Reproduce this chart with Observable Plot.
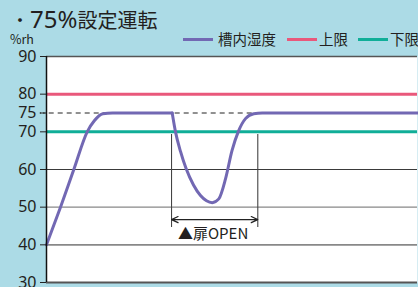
<!DOCTYPE html>
<html><head><meta charset="utf-8">
<script src="https://cdn.jsdelivr.net/npm/d3@7"></script>
<script src="https://cdn.jsdelivr.net/npm/@observablehq/plot@0.6"></script>
<style>
html,body{margin:0;padding:0;background:#acdbe6;}
#wrap{position:relative;width:418px;height:287px;overflow:hidden;font-family:"Noto Sans CJK JP","Noto Sans",sans-serif;color:#231f20;}
#title{position:absolute;left:11px;top:4px;line-height:30px;white-space:nowrap;}
#title .dot{font-size:18px;display:inline-block;width:19px;overflow:hidden;vertical-align:top;}
#title .num{font-family:"Noto Sans",sans-serif;font-size:24px;}
#title .jp{font-size:20px;}
#unit{position:absolute;left:10px;top:31px;font-size:12.5px;line-height:16px;}
#legend{position:absolute;left:183px;top:30px;font-size:14.5px;line-height:18px;white-space:nowrap;display:flex;align-items:center;}
.sw{display:inline-block;width:30px;height:3px;margin-right:2px;}
.it{display:flex;align-items:center;margin-right:10px;}
svg{position:absolute;left:0;top:0;}
</style></head>
<body><div id="wrap">
<div id="chart"></div>
<div id="title"><span class="dot">・</span><span class="num">75%</span><span class="jp">設定運転</span></div>
<div id="unit">%rh</div>
<div id="legend"></div>
</div>
<script>
// humidity curve (time in arbitrary units, 0–100 across the plot)
const time     = [0, 3.77, 7.36, 10.97, 12.94, 15.18, 17.79, 33.88,
                  33.88, 34.77, 36.12, 37.65, 39.62, 41.51, 43.13, 44.66, 46.44, 48.25, 50.0, 51.67, 53.64, 55.88, 58.14, 100];
const humidity = [40, 50, 60, 70, 73, 74.8, 75, 75,
                  75, 70, 64.8, 60.2, 55.9, 53.1, 51.7, 51.2, 52.2, 57.5, 65, 70, 73.5, 74.8, 75, 75];
const phase    = ["run","run","run","run","run","run","run","run",
                  "open","open","open","open","open","open","open","open","open","open","open","open","open","open","open","open"];
const upperLimit = 80;
const lowerLimit = 70;
const setPoint = 75;
const yTicks = [30, 40, 50, 60, 70, 80, 90];
const gridValues = [40, 50, 60];
const openStart = 33.7, openEnd = 56.95, openLabelX = 44.9;
const openLabel = "▲扉OPEN";
const seriesNames = ["槽内湿度", "上限", "下限"];
const seriesColors = ["#7268b3", "#e9587b", "#10ae98"];

const curve = time.map((t, i) => ({t, h: humidity[i], p: phase[i]}));
const mid = (openStart + openEnd) / 2;

const chart = Plot.plot({
  width: 418, height: 287,
  marginLeft: 46, marginRight: 1, marginTop: 56, marginBottom: 5,
  style: {background: "transparent", fontFamily: "'Noto Sans', sans-serif"},
  x: {domain: [0, 100], axis: null},
  y: {domain: [30, 90]},
  marks: [
    Plot.frame({fill: "white", stroke: null}),
    Plot.ruleY(gridValues, {stroke: d => d === 60 ? "#3a3a3a" : "#888", strokeWidth: d => d === 40 ? 1.7 : 1.2}),
    Plot.ruleY([90], {stroke: "#555", strokeWidth: 1.5}),
    Plot.ruleY([30], {stroke: "#555", strokeWidth: 2}),
    Plot.ruleY([setPoint], {x1: -1.7, x2: 100, stroke: "#222", strokeWidth: 1, strokeDasharray: "5,4", clip: false}),
    Plot.ruleY([upperLimit], {stroke: seriesColors[1], strokeWidth: 3}),
    Plot.ruleY([lowerLimit], {stroke: seriesColors[2], strokeWidth: 3}),
    Plot.ruleX([openStart, openEnd], {y1: 44.6, y2: 69.3, stroke: "#444", strokeWidth: 1.1}),
    Plot.arrow([{a: mid, b: openStart}, {a: mid, b: openEnd}], {x1: "a", x2: "b", y1: 46.7, y2: 46.7, stroke: "#222", strokeWidth: 1.2, headLength: 9, headAngle: 50}),
    Plot.text([openLabel], {x: openLabelX, y: 42.9, text: d => d, fontSize: 15, fill: "#231f20", fontFamily: "'Noto Sans CJK JP', sans-serif"}),
    Plot.line(curve, {x: "t", y: "h", z: "p", stroke: seriesColors[0], strokeWidth: 3, curve: "monotone-x"}),
    Plot.axisY(yTicks, {tickSize: 6, tickPadding: 4, fontSize: 16, stroke: "#222", fill: "#231f20", label: null}),
    Plot.axisY([setPoint], {tickSize: 6, tickPadding: 4, fontSize: 16, stroke: "#222", fill: "#231f20", strokeDasharray: "3,2", label: null}),
    Plot.ruleX([0], {stroke: "#111", strokeWidth: 1.5})
  ]
});
document.getElementById("chart").appendChild(chart);

const leg = document.getElementById("legend");
seriesNames.forEach((n, i) => {
  const it = document.createElement("span"); it.className = "it";
  const sw = document.createElement("span"); sw.className = "sw"; sw.style.background = seriesColors[i];
  it.appendChild(sw); it.appendChild(document.createTextNode(n));
  if (i === 0) { sw.style.marginRight = "5px"; it.style.marginRight = "11px"; }
  leg.appendChild(it);
});
</script>
</body></html>
